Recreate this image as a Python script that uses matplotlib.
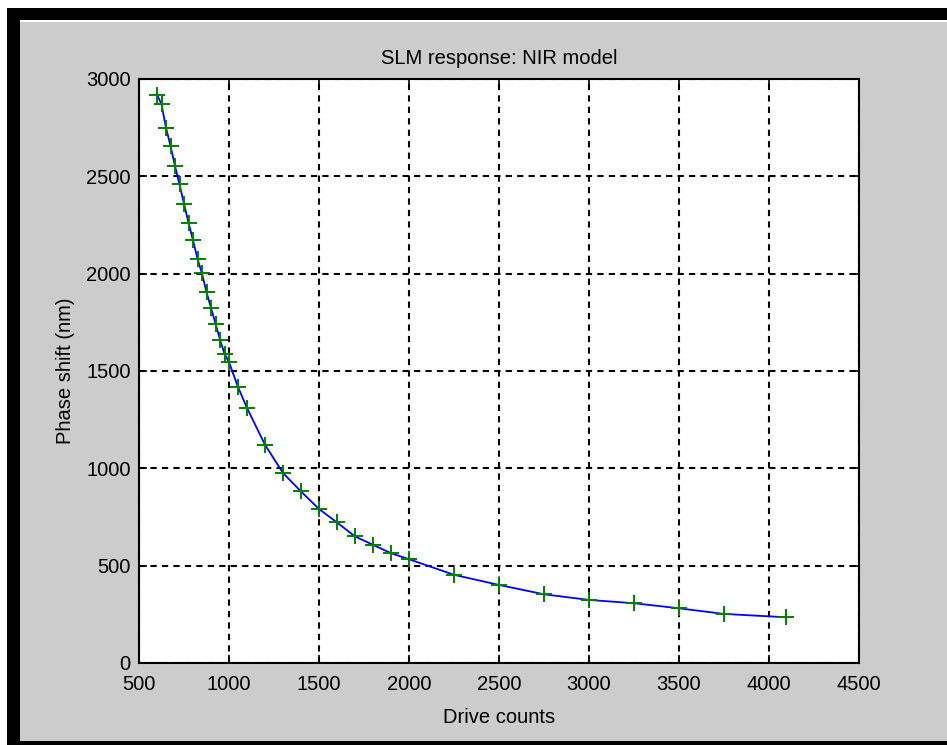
import matplotlib
matplotlib.use("Agg")
import matplotlib.pyplot as plt
from matplotlib.patches import Rectangle

drive_counts = [600, 625, 650, 675, 700, 725, 750, 775, 800, 825, 850, 875, 900,
                925, 950, 975, 1000, 1050, 1100, 1200, 1300, 1400, 1500, 1600,
                1700, 1800, 1900, 2000, 2250, 2500, 2750, 3000, 3250, 3500,
                3750, 4095]
phase_shift = [2920, 2870, 2750, 2656, 2553, 2459, 2359, 2262, 2172, 2076, 2001,
               1905, 1824, 1744, 1661, 1589, 1545, 1418, 1310, 1121, 976, 881,
               791, 722, 650, 607, 564, 533, 453, 401, 353, 324, 307, 281, 252,
               235]
x_ticks = [500, 1000, 1500, 2000, 2500, 3000, 3500, 4000, 4500]
y_ticks = [0, 500, 1000, 1500, 2000, 2500, 3000]

W, H = 947, 745
plt.rcParams['font.family'] = ['Liberation Sans', 'DejaVu Sans']
fig = plt.figure(figsize=(W / 100, H / 100), dpi=100, facecolor='white')

def prect(x0, y0, x1, y1, color, z):
    fig.patches.append(Rectangle((x0 / W, 1 - y1 / H), (x1 - x0) / W, (y1 - y0) / H,
                                 transform=fig.transFigure, facecolor=color,
                                 edgecolor='none', zorder=z))

prect(7, 8, W, H, 'black', -3)
prect(20, 20, W, 22, 'white', -2)
prect(20, 22, W, 741, '#cccccc', -2)

ax = fig.add_axes([139 / W, 1 - 663 / H, (859 - 139) / W, (663 - 79) / H])
ax.set_facecolor('white')
ax.plot(drive_counts, phase_shift, color='#0000ff', lw=1.3, zorder=3)
ax.plot(drive_counts, phase_shift, ls='none', marker='+', ms=12, mew=1.4,
        color='#008000', zorder=4)

ax.set_xlim(500, 4500)
ax.set_ylim(0, 3000)
ax.set_xticks(x_ticks)
ax.set_yticks(y_ticks)
ax.tick_params(direction='in', top=True, right=True, labelsize=14.5, length=6,
               width=1.2, colors='black', pad=6)
ax.tick_params(axis='x', pad=9)
ax.grid(True, color='black', ls=(0, (3, 2.5)), lw=1.5)
for s in ax.spines.values():
    s.set_linewidth(1.5)
ax.set_title('SLM response: NIR model', fontsize=14.5, pad=11)
ax.set_xlabel('Drive counts', fontsize=14.5, labelpad=10)
ax.set_ylabel('Phase shift (nm)', fontsize=14.5, labelpad=8)

fig.savefig('out.png', dpi=100, facecolor=fig.get_facecolor())
